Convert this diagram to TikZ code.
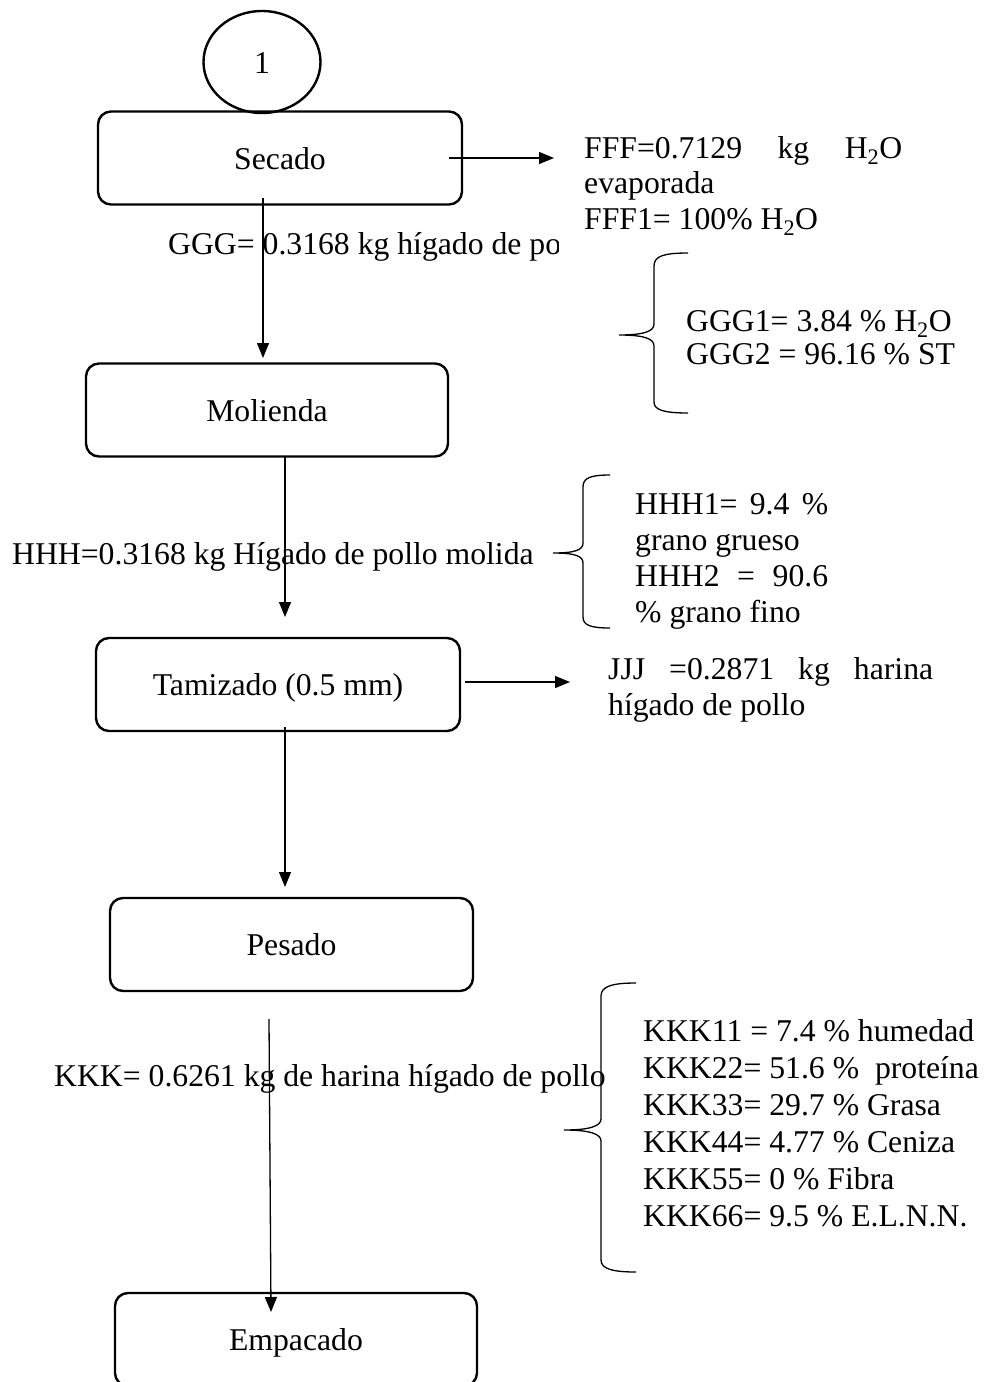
\documentclass[tikz,border=0pt]{standalone}
\usepackage{fontspec}
\setmainfont{Liberation Serif}
\usetikzlibrary{arrows.meta,shapes.geometric}
\begin{document}
\begin{tikzpicture}[x=1pt,y=-1pt,
  every node/.style={font=\fontsize{31.7}{36}\selectfont, inner sep=0pt},
  stepbox/.style={draw, line width=2.4pt, rounded corners=13pt, minimum width=364pt, minimum height=93pt, text height=22pt, text depth=0pt},
  flow/.style={line width=1.3pt, -{Triangle[length=15pt,width=12pt]}},
  txt/.style={anchor=base west},
  brace/.style={line width=1.3pt}]
\useasboundingbox (0,0) rectangle (985,1382);

% process boxes
\node[stepbox] (secado) at (280,158) {Secado};
\node[draw, ellipse, line width=2.4pt, minimum width=117pt, minimum height=102pt, text height=22pt, text depth=0pt] (uno) at (262,62) {1};
\node[stepbox, minimum width=362pt] (molienda) at (267,410) {Molienda};
\node[stepbox] (tamizado) at (278,684.5) {Tamizado (0.5 mm)};
\node[stepbox, minimum width=363pt] (pesado) at (291.5,944.5) {Pesado};
\node[stepbox, minimum width=362pt] (empacado) at (296,1339.5) {Empacado};

% connector end points
\coordinate (a1) at (449,158);  \coordinate (a2) at (554,158);
\coordinate (b1) at (263,198);  \coordinate (b2) at (263,358);
\coordinate (c1) at (285,456.5);\coordinate (c2) at (285,617);
\coordinate (d1) at (465,682);  \coordinate (d2) at (570,682);
\coordinate (e1) at (285,727);  \coordinate (e2) at (285,887);
\coordinate (f1) at (269,1019); \coordinate (f2) at (271,1312);

\draw[flow] (a1) -- (a2);
\draw[flow] (b1) -- (b2);
\draw[flow] (c1) -- (c2);
\draw[flow] (d1) -- (d2);
\draw[flow] (e1) -- (e2);
\draw[flow] (f1) -- (f2);

% Secado outputs
\node[txt] (fff) at (584,158) {\makebox[318pt][s]{FFF=0.7129 kg H\textsubscript{2}O}};
\node[txt] (fffb) at (584,193.5) {evaporada};
\node[txt] (fffc) at (584,229) {FFF1= 100\% H\textsubscript{2}O};
\begin{scope}
  \clip (0,0) rectangle (558,1382);
  \node[txt] (ggg) at (168,254) {GGG= 0.3168 kg hígado de pollo};
\end{scope}
\draw[brace] (688,253) .. controls (664,253) and (654,256) .. (654,266) -- (654,324)
  .. controls (654,331) and (645,335) .. (619,335)
  .. controls (645,335) and (654,339) .. (654,346) -- (654,402)
  .. controls (654,410) and (664,413) .. (688,413);
\node[txt] (ggg1) at (686,331) {GGG1= 3.84 \% H\textsubscript{2}O};
\node[txt] (ggg2) at (686,364) {GGG2 = 96.16 \% ST};

% Molienda outputs
\node[txt] (hhh) at (12,564) {HHH=0.3168 kg Hígado de pollo molida};
\draw[brace] (610,475) .. controls (590,475) and (583,478) .. (583,487) -- (583,543)
  .. controls (583,550) and (575,553) .. (553,553)
  .. controls (575,553) and (583,556) .. (583,563) -- (583,617)
  .. controls (583,625) and (590,628) .. (610,628);
\node[txt] (hhh1) at (635,514) {\makebox[193pt][s]{HHH1= 9.4 \%}};
\node[txt] (hhh1b) at (635,550) {grano grueso};
\node[txt] (hhh2) at (635,586) {\makebox[193pt][s]{HHH2 = 90.6}};
\node[txt] (hhh2b) at (635,622) {\% grano fino};

% Tamizado output
\node[txt] (jjj) at (608,679) {\makebox[325pt][s]{JJJ =0.2871 kg harina}};
\node[txt] (jjjb) at (608,715) {hígado de pollo};

% Pesado outputs
\node[txt] (kkk) at (54,1086) {KKK= 0.6261 kg de harina hígado de pollo};
\draw[brace] (636,983) .. controls (613,983) and (601,986) .. (601,996) -- (601,1119)
  .. controls (601,1126) and (590,1130) .. (564,1130)
  .. controls (590,1130) and (601,1134) .. (601,1141) -- (601,1260)
  .. controls (601,1269) and (613,1272) .. (636,1272);
\node[txt] (k1) at (643,1041) {KKK11 = 7.4 \% humedad};
\node[txt] (k2) at (643,1078) {KKK22= 51.6 \%\ \ proteína};
\node[txt] (k3) at (643,1115) {KKK33= 29.7 \% Grasa};
\node[txt] (k4) at (643,1152) {KKK44= 4.77 \% Ceniza};
\node[txt] (k5) at (643,1189) {KKK55= 0 \% Fibra};
\node[txt] (k6) at (643,1226) {KKK66= 9.5 \% E.L.N.N.};
\end{tikzpicture}
\end{document}
